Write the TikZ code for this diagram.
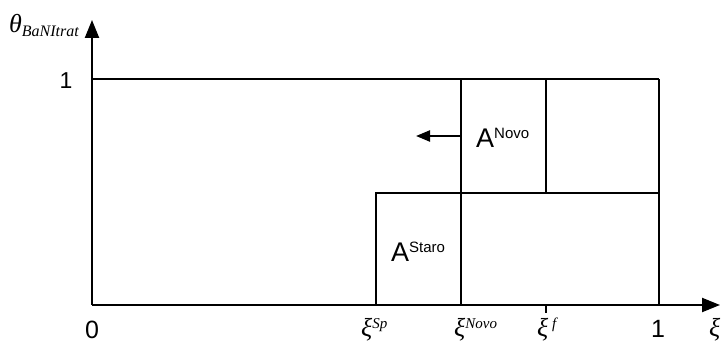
\documentclass[tikz,border=0pt]{standalone}
\usepackage{fontspec}
\setmainfont{Liberation Sans}
\newfontfamily\tms{Liberation Serif}
\usetikzlibrary{arrows.meta, positioning}

\begin{document}
\begin{tikzpicture}[
    x=1pt, y=1pt,
    axis/.style={line width=2.2pt, -{Triangle[length=18pt, width=14pt]}},
    wall/.style={line width=2.2pt},
    thinwall/.style={line width=1.5pt},
    moveleft/.style={line width=2.2pt, -{Triangle[length=14pt, width=11pt]}},
    numlbl/.style={font=\fontsize{25}{28}\selectfont, inner sep=0pt, anchor=base},
    xilbl/.style={font=\tms\fontsize{26}{30}\selectfont\itshape, inner sep=0pt, anchor=base west},
    arealbl/.style={font=\fontsize{27}{30}\selectfont, inner sep=0pt, anchor=base west}
]
    \useasboundingbox (-92,-40) rectangle (631,305);

    % axes
    \coordinate (origin) at (0,0);
    \coordinate (xend) at (628,0);
    \coordinate (yend) at (0,285);
    \draw[axis] (origin) -- (xend);
    \draw[axis] (origin) -- (yend);

    % corner points of the areas
    \coordinate (topleft) at (0,226);
    \coordinate (topright) at (567,226);
    \coordinate (oneright) at (567,0);
    \coordinate (midright) at (567,112);
    \coordinate (spmid) at (284,112);
    \coordinate (spbot) at (284,0);
    \coordinate (novotop) at (369,226);
    \coordinate (novobot) at (369,0);
    \coordinate (ftop) at (454,226);
    \coordinate (fmid) at (454,112);
    \coordinate (fbot) at (454,0);
    \coordinate (ftick) at (454,-8);

    \draw[wall] (topleft) -- (topright);
    \draw[wall] (spbot) -- (spmid) -- (midright);
    \draw[wall] (novotop) -- (novobot);
    \draw[thinwall] (ftop) -- (fmid);
    \draw[thinwall] (topright) -- (oneright);
    \draw[wall] (fbot) -- (ftick);

    % shift of the new area
    \coordinate (movestart) at (369,169);
    \coordinate (moveend) at (324,169);
    \draw[moveleft] (movestart) -- (moveend);

    % labels
    \node[numlbl] (zero) at (0,-34) {0};
    \node[numlbl] (xone) at (566,-33) {1};
    \node[numlbl, font=\fontsize{23}{26}\selectfont] (yone) at (-26,216) {1};
    \node[xilbl] (xi) at (617,-32) {ξ};
    \node[xilbl] (xisp) at (269,-32) {ξ\raisebox{8pt}{\fontsize{15}{17}\selectfont Sp}};
    \node[xilbl] (xinovo) at (362,-32) {ξ\raisebox{8pt}{\fontsize{15}{17}\selectfont Novo}};
    \node[xilbl] (xif) at (445,-32) {ξ\raisebox{8pt}{\fontsize{15}{17}\selectfont\ f}};
    \node[xilbl, font=\tms\fontsize{26}{30}\selectfont\itshape] (theta) at (-83,272)
        {θ\raisebox{-4pt}{\fontsize{16}{18}\selectfont BaNItrat}};
    \node[arealbl] (anovo) at (384,157) {A\raisebox{9pt}{\fontsize{15}{17}\selectfont Novo}};
    \node[arealbl] (astaro) at (299,43) {A\raisebox{9pt}{\fontsize{15}{17}\selectfont Staro}};
\end{tikzpicture}
\end{document}
